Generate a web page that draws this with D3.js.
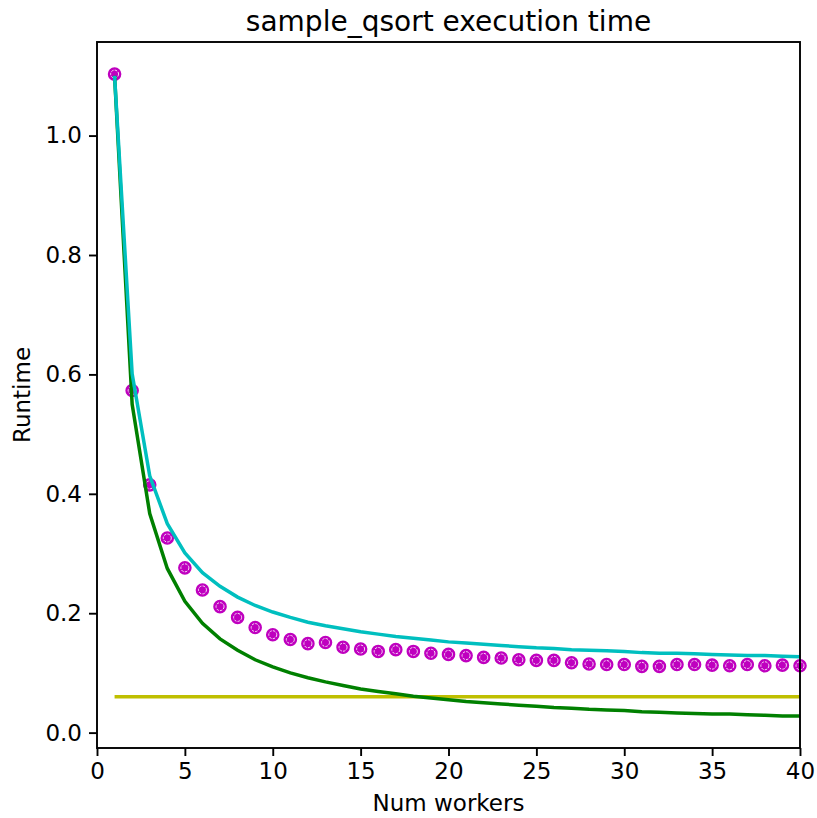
<!DOCTYPE html>
<html>
<head>
<meta charset="utf-8">
<script src="https://cdn.jsdelivr.net/npm/d3@7"></script>
<style>
  body { margin: 0; background: white; }
  text { font-family: "DejaVu Sans", sans-serif; fill: black; }
</style>
</head>
<body>
<div id="chart"></div>
<script>
// x values (number of workers)
let workers = [1, 2, 3, 4, 5, 6, 7, 8, 9, 10,
               11, 12, 13, 14, 15, 16, 17, 18, 19, 20,
               21, 22, 23, 24, 25, 26, 27, 28, 29, 30,
               31, 32, 33, 34, 35, 36, 37, 38, 39, 40];

// measured runtime (magenta dots)
let measured = [1.103, 0.573, 0.415, 0.326, 0.276, 0.239, 0.211, 0.193, 0.176, 0.164,
                0.156, 0.149, 0.151, 0.143, 0.140, 0.136, 0.139, 0.136, 0.133, 0.131,
                0.129, 0.126, 0.125, 0.122, 0.121, 0.121, 0.117, 0.115, 0.114, 0.114,
                0.111, 0.111, 0.114, 0.114, 0.113, 0.112, 0.114, 0.112, 0.113, 0.112];

// ideal linear speedup (green)
let ideal = [1.100, 0.550, 0.367, 0.275, 0.220, 0.183, 0.157, 0.138, 0.122, 0.110,
             0.100, 0.092, 0.085, 0.079, 0.073, 0.069, 0.065, 0.061, 0.058, 0.055,
             0.052, 0.050, 0.048, 0.046, 0.044, 0.042, 0.041, 0.039, 0.038, 0.037,
             0.035, 0.034, 0.033, 0.032, 0.031, 0.031, 0.030, 0.029, 0.028, 0.028];

// amdahl estimate (cyan)
let amdahl = [1.100, 0.601, 0.430, 0.350, 0.301, 0.268, 0.245, 0.227, 0.213, 0.202,
              0.193, 0.185, 0.179, 0.174, 0.169, 0.165, 0.161, 0.158, 0.155, 0.152,
              0.150, 0.148, 0.146, 0.144, 0.142, 0.141, 0.139, 0.138, 0.137, 0.136,
              0.134, 0.133, 0.133, 0.132, 0.131, 0.130, 0.129, 0.129, 0.128, 0.127];

// sequential part (yellow)
let seqX = [1, 40];
let seqY = [0.06, 0.06];

let xTicks = [0, 5, 10, 15, 20, 25, 30, 35, 40];
let yTicks = [0.0, 0.2, 0.4, 0.6, 0.8, 1.0];

let dim = { width: 817, height: 818 };
let margin = { left: 97, top: 42, right: 17, bottom: 70 };
let w = dim.width - margin.left - margin.right;
let h = dim.height - margin.top - margin.bottom;

let svg = d3.select('#chart').append('svg')
    .attr('width', dim.width)
    .attr('height', dim.height);

let g = svg.append('g')
    .attr('transform', 'translate(' + margin.left + ',' + margin.top + ')');

let allY = measured.concat(ideal, amdahl, seqY);
let yMin = d3.min(allY), yMax = d3.max(allY);
let pad = (yMax - yMin) * 0.05;

let x = d3.scaleLinear().domain([0, 40]).range([0, w]);
let y = d3.scaleLinear().domain([yMin - pad, yMax + pad]).range([h, 0]);

// markers first, lines over them
let dots = g.append('g');
dots.selectAll('circle.outer')
    .data(measured)
    .join('circle')
    .attr('class', 'outer')
    .attr('cx', (d, i) => x(workers[i]))
    .attr('cy', d => y(d))
    .attr('r', 6)
    .attr('fill', '#bf00bf')
    .attr('stroke', '#bf00bf')
    .attr('stroke-width', 1.6);
dots.selectAll('circle.inner')
    .data(measured)
    .join('circle')
    .attr('class', 'inner')
    .attr('cx', (d, i) => x(workers[i]))
    .attr('cy', d => y(d))
    .attr('r', 4)
    .attr('fill', 'none')
    .attr('stroke', 'white')
    .attr('stroke-opacity', 0.85)
    .attr('stroke-width', 1)
    .attr('stroke-dasharray', '2.5 1.2');

let line = d3.line()
    .x((d, i) => x(workers[i]))
    .y(d => y(d));

g.append('path')
    .attr('d', d3.line().x((d, i) => x(seqX[i])).y(d => y(d))(seqY))
    .attr('fill', 'none')
    .attr('stroke', '#bfbf00')
    .attr('stroke-width', 3.5);

g.append('path')
    .attr('d', line(ideal))
    .attr('fill', 'none')
    .attr('stroke', '#008000')
    .attr('stroke-width', 3.5);

g.append('path')
    .attr('d', line(amdahl))
    .attr('fill', 'none')
    .attr('stroke', '#00bfbf')
    .attr('stroke-width', 3.5);

// axes
let xAxis = g.append('g')
    .attr('transform', 'translate(0,' + h + ')')
    .call(d3.axisBottom(x).tickValues(xTicks).tickSize(8).tickPadding(7).tickFormat(d3.format('d')));
let yAxis = g.append('g')
    .call(d3.axisLeft(y).tickValues(yTicks).tickSize(8).tickPadding(7).tickFormat(d3.format('.1f')));

[xAxis, yAxis].forEach(function(ax){
    ax.select('.domain').remove();
    ax.selectAll('line').attr('stroke', 'black').attr('stroke-width', 1.9);
    ax.selectAll('text')
      .style('font-family', '"DejaVu Sans", sans-serif')
      .style('font-size', '23px')
      .attr('fill', 'black');
});

// frame
g.append('rect')
    .attr('x', 0).attr('y', 0)
    .attr('width', w).attr('height', h)
    .attr('fill', 'none')
    .attr('stroke', 'black')
    .attr('stroke-width', 1.9);

// labels
svg.append('text')
    .attr('x', margin.left + w / 2)
    .attr('y', 31)
    .attr('text-anchor', 'middle')
    .style('font-size', '28px')
    .text('sample_qsort execution time');

svg.append('text')
    .attr('x', margin.left + w / 2)
    .attr('y', 811)
    .attr('text-anchor', 'middle')
    .style('font-size', '23px')
    .text('Num workers');

svg.append('text')
    .attr('transform', 'translate(30,' + (margin.top + h / 2) + ') rotate(-90)')
    .attr('text-anchor', 'middle')
    .style('font-size', '23px')
    .text('Runtime');
</script>
</body>
</html>
